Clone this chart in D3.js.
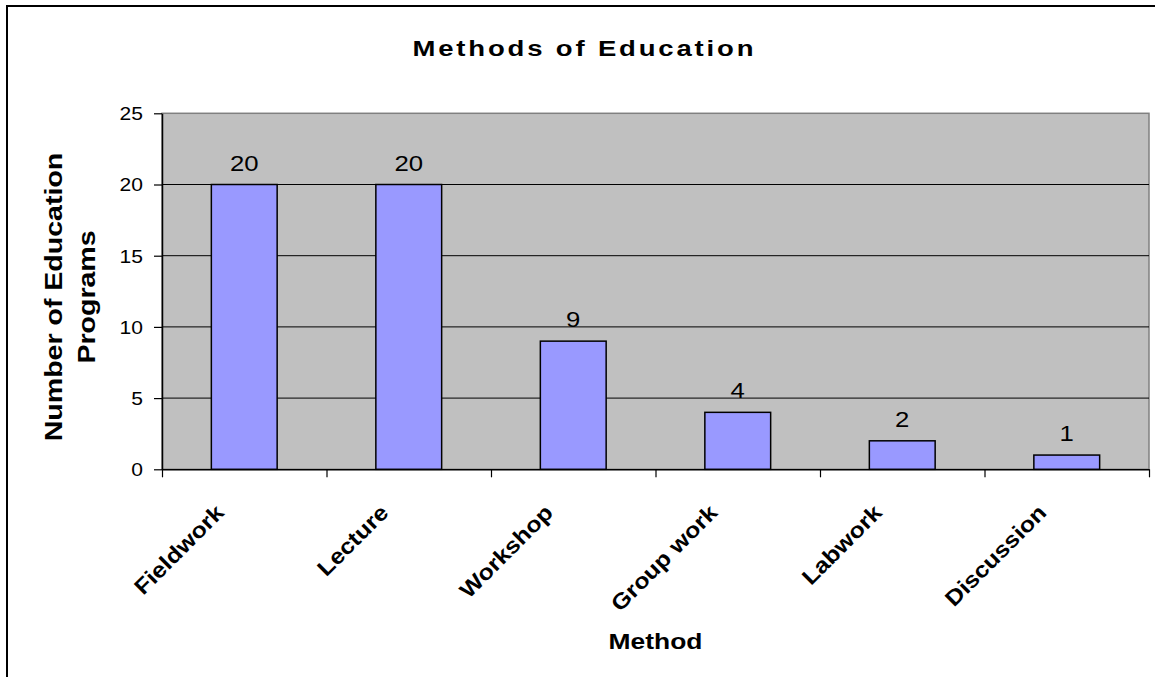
<!DOCTYPE html>
<html>
<head>
<meta charset="utf-8">
<script src="https://cdn.jsdelivr.net/npm/d3@7"></script>
<style>
  html, body { margin: 0; padding: 0; background: #fff; }
  svg { display: block; font-family: "Liberation Sans", Arial, sans-serif; }
</style>
</head>
<body>
<svg id="chart" width="1155" height="677"></svg>
<script>
'use strict';

var categories = ['Fieldwork', 'Lecture', 'Workshop', 'Group work', 'Labwork', 'Discussion'],
    programCounts = [20, 20, 9, 4, 2, 1],
    yTickValues = [0, 5, 10, 15, 20, 25],
    chartTitle = 'Methods of Education',
    xTitle = 'Method',
    yTitleLines = ['Number of Education', 'Programs'];

var svg = d3.select('#chart'),
    stretch = 1.17,
    plot = {left: 162, right: 1149, top: 113.3, bottom: 469.3},
    x, xEdges, y, g;

// outer chart border (runs off the right and bottom of the picture)
svg.append('rect')
    .attr('x', 7).attr('y', 6)
    .attr('width', 1170).attr('height', 700)
    .attr('fill', 'none')
    .attr('stroke', '#000')
    .attr('stroke-width', 2);

x = d3.scaleBand()
    .domain(categories)
    .range([plot.left, plot.right])
    .paddingInner(0.6)
    .paddingOuter(0.3);

xEdges = d3.scaleLinear()
    .domain([0, categories.length])
    .range([plot.left, plot.right]);

y = d3.scaleLinear()
    .domain([0, 25])
    .range([plot.bottom, plot.top]);

// plot area
svg.append('rect')
    .attr('x', plot.left).attr('y', plot.top)
    .attr('width', plot.right - plot.left)
    .attr('height', plot.bottom - plot.top)
    .attr('fill', '#c0c0c0')
    .attr('stroke', '#808080')
    .attr('stroke-width', 1.5);

// gridlines
svg.append('g').selectAll('line')
    .data(yTickValues.filter(function (d) { return d > 0 && d < 25; }))
    .enter().append('line')
    .attr('x1', plot.left).attr('x2', plot.right)
    .attr('y1', function (d) { return y(d); })
    .attr('y2', function (d) { return y(d); })
    .attr('stroke', '#000')
    .attr('stroke-width', 1);

// y axis
g = svg.append('g')
    .attr('transform', 'translate(' + plot.left + ',0)')
    .call(d3.axisLeft(y).tickValues(yTickValues).tickSize(8).tickSizeOuter(0));
g.select('.domain').attr('stroke', '#000').attr('stroke-width', 1.5);
g.selectAll('.tick line').attr('stroke', '#000').attr('stroke-width', 1.2);
g.selectAll('.tick text')
    .attr('font-family', '"Liberation Sans", Arial, sans-serif')
    .attr('font-size', 18)
    .attr('fill', '#000')
    .attr('dy', '0.36em')
    .attr('x', -19 / stretch)
    .attr('transform', 'scale(' + stretch + ',1)');

// bars
svg.append('g').selectAll('rect')
    .data(programCounts)
    .enter().append('rect')
    .attr('x', function (d, i) { return x(categories[i]); })
    .attr('y', function (d) { return y(d); })
    .attr('width', x.bandwidth())
    .attr('height', function (d) { return y(0) - y(d); })
    .attr('fill', '#9999ff')
    .attr('stroke', '#000')
    .attr('stroke-width', 1.5);

// x axis: ticks sit on the category edges
g = svg.append('g')
    .attr('transform', 'translate(0,' + plot.bottom + ')')
    .call(d3.axisBottom(xEdges).ticks(categories.length).tickSize(8).tickSizeOuter(0).tickFormat(''));
g.select('.domain').attr('stroke', '#000').attr('stroke-width', 1.5);
g.selectAll('.tick line').attr('stroke', '#000').attr('stroke-width', 1.2);

// data labels
svg.append('g').selectAll('text')
    .data(programCounts)
    .enter().append('text')
    .attr('text-anchor', 'middle')
    .attr('font-size', 22)
    .attr('transform', function (d, i) {
      return 'translate(' + (x(categories[i]) + x.bandwidth() / 2) + ',' + (y(d) - 14) + ') scale(' + stretch + ',1)';
    })
    .text(function (d) { return d; });

// category labels, rotated
svg.append('g').selectAll('text')
    .data(categories)
    .enter().append('text')
    .attr('text-anchor', 'end')
    .attr('font-size', 22)
    .attr('font-weight', 'bold')
    .attr('transform', function (d) {
      return 'translate(' + (x(d) + x.bandwidth() / 2 - 19) + ',514) rotate(-45) scale(1.13,1)';
    })
    .text(function (d) { return d; });

// chart title
svg.append('text')
    .attr('text-anchor', 'middle')
    .attr('font-size', 22)
    .attr('font-weight', 'bold')
    .attr('transform', 'translate(583,56) scale(1.25,1)')
    .attr('textLength', 341 / 1.25)
    .attr('lengthAdjust', 'spacing')
    .text(chartTitle);

// x axis title
svg.append('text')
    .attr('text-anchor', 'middle')
    .attr('font-size', 22)
    .attr('font-weight', 'bold')
    .attr('transform', 'translate(' + ((plot.left + plot.right) / 2) + ',649) scale(1.2,1)')
    .text(xTitle);

// y axis title, two lines
svg.append('g').selectAll('text')
    .data(yTitleLines)
    .enter().append('text')
    .attr('text-anchor', 'middle')
    .attr('font-size', 24)
    .attr('font-weight', 'bold')
    .attr('transform', function (d, i) {
      return 'translate(' + (62 + i * 33) + ',297) rotate(-90) scale(1.19,1)';
    })
    .text(function (d) { return d; });
</script>
</body>
</html>
